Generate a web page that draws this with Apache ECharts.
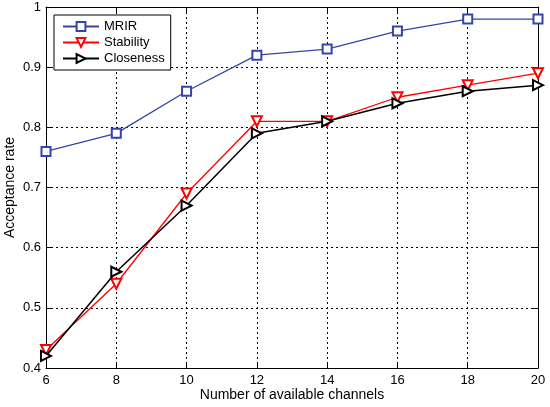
<!DOCTYPE html>
<html>
<head>
<meta charset="utf-8">
<script src="https://cdn.jsdelivr.net/npm/echarts@6/dist/echarts.min.js"></script>
<style>
  html, body { margin: 0; padding: 0; background: #fff; }
  #chart { width: 550px; height: 407px; }
</style>
</head>
<body>
<div id="chart"></div>
<script>
var channels = [6, 8, 10, 12, 14, 16, 18, 20];
var mrir = [0.76, 0.79, 0.86, 0.92, 0.93, 0.96, 0.98, 0.98];
var stability = [0.43, 0.54, 0.69, 0.81, 0.81, 0.85, 0.87, 0.89];
var closeness = [0.42, 0.56, 0.67, 0.79, 0.81, 0.84, 0.86, 0.87];

function pairs(ys) {
    var out = [];
    for (var i = 0; i < channels.length; i++) {
        out.push([channels[i], ys[i]]);
    }
    return out;
}

var font = 'Liberation Sans, Arial, sans-serif';
var myChart = echarts.init(document.getElementById('chart'));

// dotted grid + inward ticks, MATLAB style box
var gridLine = { show: true, lineStyle: { color: '#000', type: [2, 3], width: 1 } };
var frame = { show: true, onZero: false, lineStyle: { color: '#000', width: 1 } };
var tick = { show: true, inside: true, length: 5, lineStyle: { color: '#000' } };

var option = {
    animation: false,
    backgroundColor: '#fff',
    textStyle: { fontFamily: font },
    grid: { left: 46, right: 12, top: 7, bottom: 39, containLabel: false, outerBoundsMode: 'none' },
    legend: {
        left: 54,
        top: 15,
        orient: 'vertical',
        backgroundColor: '#fff',
        borderColor: '#000',
        borderWidth: 1,
        borderRadius: 0,
        padding: [5, 6, 5, 8],
        itemGap: 3,
        itemWidth: 36,
        itemHeight: 11,
        textStyle: { fontFamily: font, fontSize: 13, color: '#000' },
        data: ['MRIR', 'Stability', 'Closeness']
    },
    xAxis: [{
        type: 'value',
        min: 6, max: 20, interval: 2,
        name: 'Number of available channels',
        nameLocation: 'middle',
        nameMoveOverlap: false,
        nameGap: 20,
        nameTextStyle: { fontSize: 14, color: '#000', fontFamily: font },
        axisLine: frame,
        axisTick: tick,
        axisLabel: { color: '#000', fontSize: 13, margin: 6, fontFamily: font },
        splitLine: gridLine
    }, {
        type: 'value', position: 'top',
        min: 6, max: 20, interval: 2,
        axisLine: frame, axisTick: tick,
        axisLabel: { show: false }, splitLine: { show: false }
    }],
    yAxis: [{
        type: 'value',
        min: 0.4, max: 1, interval: 0.1,
        name: 'Acceptance rate',
        nameLocation: 'middle',
        nameMoveOverlap: false,
        nameGap: 29,
        nameTextStyle: { fontSize: 14, color: '#000', fontFamily: font },
        axisLine: frame,
        axisTick: tick,
        axisLabel: {
            color: '#000', fontSize: 13, margin: 5, fontFamily: font,
            formatter: function (v) { return String(+v.toFixed(1)); }
        },
        splitLine: gridLine
    }, {
        type: 'value', position: 'right',
        min: 0.4, max: 1, interval: 0.1,
        axisLine: frame, axisTick: tick,
        axisLabel: { show: false }, splitLine: { show: false }
    }],
    series: [{
        name: 'MRIR',
        type: 'line',
        data: pairs(mrir),
        symbol: 'emptyRect',
        symbolSize: 9,
        color: '#3344aa',
        lineStyle: { width: 1.3, color: '#3344aa' },
        itemStyle: { color: '#3344aa', borderColor: '#3344aa', borderWidth: 1.3 },
        z: 3
    }, {
        name: 'Stability',
        type: 'line',
        data: pairs(stability),
        symbol: 'emptyTriangle',
        symbolRotate: 180,
        symbolSize: 10,
        color: '#ff0000',
        lineStyle: { width: 1.3, color: '#ff0000' },
        itemStyle: { color: '#ff0000', borderColor: '#ff0000', borderWidth: 1.3 },
        z: 4
    }, {
        name: 'Closeness',
        type: 'line',
        data: pairs(closeness),
        symbol: 'emptyTriangle',
        symbolRotate: -90,
        symbolSize: 10,
        color: '#000',
        lineStyle: { width: 1.5, color: '#000' },
        itemStyle: { color: '#000', borderColor: '#000', borderWidth: 1.5 },
        z: 5
    }]
};
myChart.setOption(option);
</script>
</body>
</html>
